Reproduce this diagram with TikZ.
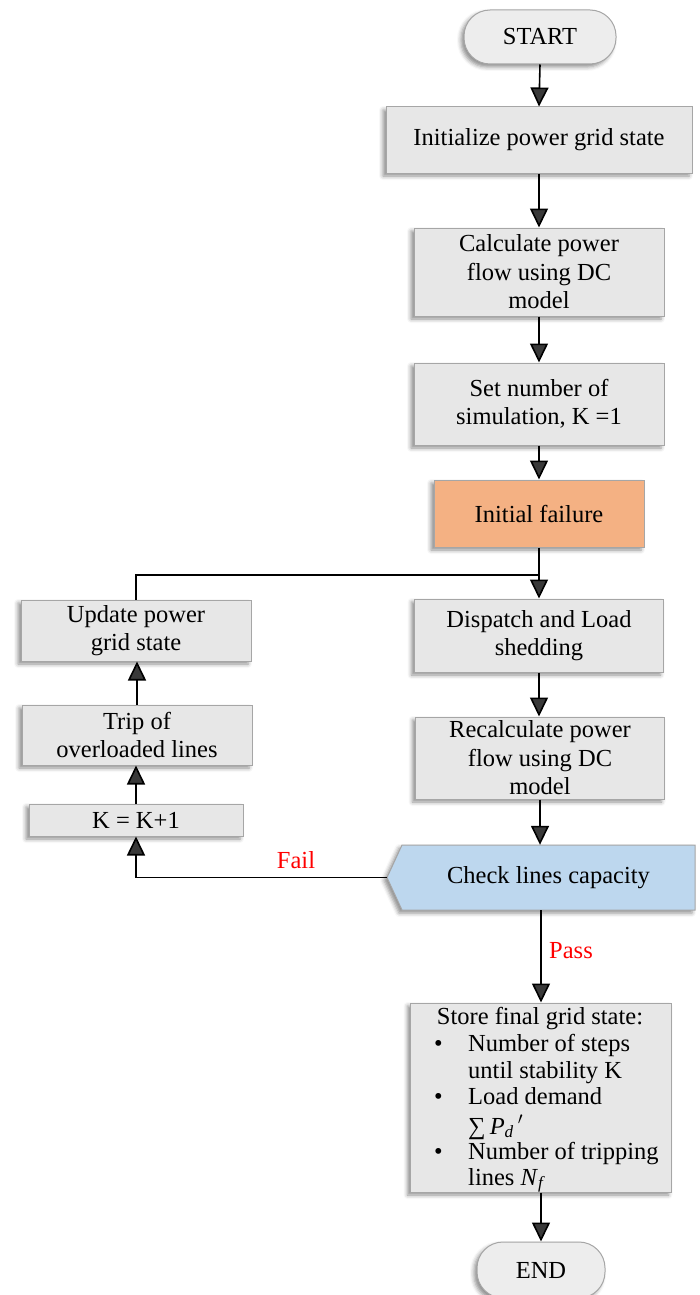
\documentclass[tikz,border=0pt]{standalone}
\usepackage{fontspec}
\setmainfont{Liberation Serif}
\usetikzlibrary{arrows.meta,shadows.blur}
\definecolor{boxfill}{HTML}{E7E7E7}
\definecolor{boxline}{HTML}{A6A6A6}
\definecolor{failfill}{HTML}{F4B183}
\definecolor{checkfill}{HTML}{BDD7EE}
\definecolor{termfill}{HTML}{EDEDED}
\definecolor{labelred}{HTML}{FF0000}

\begin{document}
\begin{tikzpicture}[x=1pt,y=-1pt,
  font=\fontsize{24.5}{28.5}\selectfont,
  every node/.style={inner sep=0pt, align=center},
  dropshadow/.style={blur shadow={shadow xshift=-3pt, shadow yshift=-3pt,
      shadow blur radius=4pt, shadow opacity=45}},
  procbox/.style={draw=boxline, line width=1pt, fill=boxfill, dropshadow},
  termbox/.style={draw=boxline, line width=1pt, fill=termfill, dropshadow,
      rounded corners=26pt},
  flow/.style={draw, line width=1.6pt, -{Triangle[width=18pt,length=19pt]}},
  plainline/.style={draw, line width=1.6pt},
  branchlabel/.style={text=labelred},
  listline/.style={anchor=base west}
]
\useasboundingbox (0,0) rectangle (699,1295);

% main column
\node[termbox, minimum width=152pt, minimum height=54pt] (start) at (540,37) {START};
\node[procbox, minimum width=306pt, minimum height=66pt] (init) at (539,140) {Initialize power grid state};
\node[procbox, minimum width=250pt, minimum height=88pt] (calc) at (539,272) {Calculate power\\flow using DC\\model};
\node[procbox, minimum width=250pt, minimum height=82pt] (setk) at (539,404) {Set number of\\simulation, K =1};
\node[draw=boxline, line width=1pt, fill=failfill, dropshadow,
      minimum width=210pt, minimum height=67pt] (fail0) at (539,513.5) {Initial failure};
\node[procbox, minimum width=249pt, minimum height=73pt] (disp) at (539,635.5) {Dispatch and Load\\shedding};
\node[procbox, minimum width=249pt, minimum height=82pt] (recalc) at (540,758) {Recalculate power\\flow using DC\\model};

% check block with pointed left side
\path[draw=boxline, line width=1pt, fill=checkfill, dropshadow]
  (387,877.5) -- (402,845) -- (695,845) -- (695,910) -- (402,910) -- cycle;
\node[minimum width=293pt, minimum height=65pt] (check) at (548.5,877.5) {Check lines capacity};
\coordinate (checktip) at (387,877.5);

% final state
\node[procbox, minimum width=261pt, minimum height=189pt] (store) at (541,1097.5) {};
\node[anchor=base] (storetitle) at (540,1024) {Store final grid state:};
\node[listline] (b1) at (434,1051) {\textbullet};
\node[listline] (l1) at (468,1051) {Number of steps};
\node[listline] (l2) at (468,1078) {until stability K};
\node[listline] (b2) at (434,1104) {\textbullet};
\node[listline] (l3) at (468,1104) {Load demand};
\node[listline] (l4) at (468,1134) {∑\,\textit{P}\textsubscript{\textit{d}}\,$'$};
\node[listline] (b3) at (434,1159) {\textbullet};
\node[listline] (l5) at (468,1159) {Number of tripping};
\node[listline] (l6) at (468,1185) {lines \textit{N}\textsubscript{\textit{f}}};

\node[termbox, minimum width=128pt, minimum height=56pt] (stop) at (541,1270) {END};

% left loop column
\node[procbox, minimum width=230pt, minimum height=61pt] (update) at (136,630.5) {Update power\\grid state};
\node[procbox, minimum width=230pt, minimum height=60pt] (trip) at (137,735) {Trip of\\overloaded lines};
\node[procbox, minimum width=214pt, minimum height=32pt] (kk) at (136,820) {K = K+1};

\coordinate (join) at (539,575);

% connectors
\draw[flow] (start.south) -- (init.north);
\draw[flow] (init) -- (calc);
\draw[flow] (calc) -- (setk);
\draw[flow] (setk) -- (fail0);
\draw[flow] (fail0) -- (disp);
\draw[plainline] (update.north) |- (join);
\draw[flow] (disp) -- (disp.south |- recalc.north);
\draw[flow] (recalc) -- (recalc.south |- check.north);
\draw[flow] (checktip) -| (kk.south);
\draw[flow] (kk) -- (kk.north |- trip.south);
\draw[flow] (trip) -- (trip.north |- update.south);
\draw[flow] (store.north |- check.south) -- (store.north);
\draw[flow] (store.south) -- (store.south |- stop.north);

% branch labels
\node[branchlabel] (faillabel) at (296,860) {Fail};
\node[branchlabel] (passlabel) at (571,951) {Pass};
\end{tikzpicture}
\end{document}
